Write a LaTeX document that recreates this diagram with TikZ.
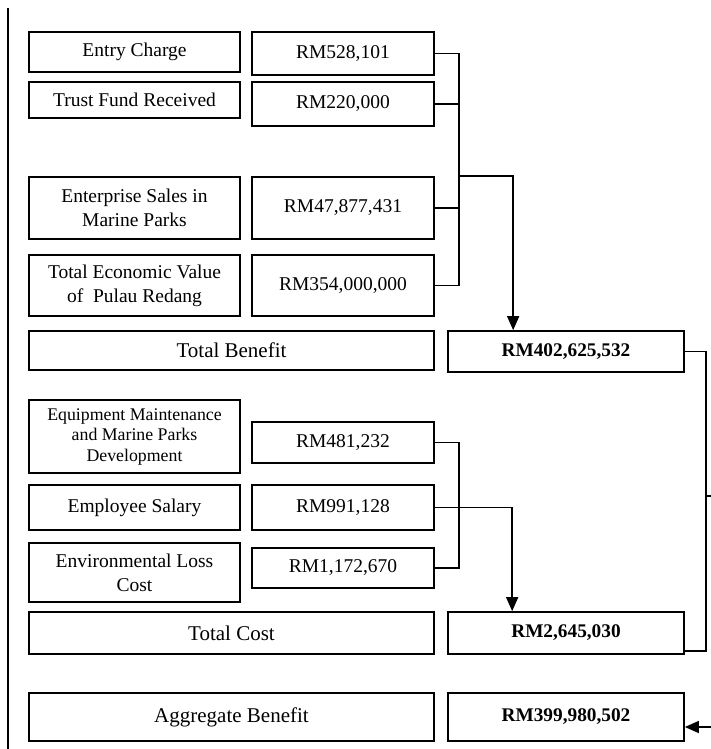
\documentclass[tikz,border=0pt]{standalone}
\usepackage{fontspec}
\setmainfont{Liberation Serif}
\usetikzlibrary{positioning,calc,arrows.meta}

\begin{document}
\begin{tikzpicture}[x=1pt, y=-1pt,
    item/.style={rectangle, draw, line width=1.7pt, minimum width=211pt, align=center, inner sep=1pt, font=\fontsize{19.5}{24}\selectfont},
    amount/.style={rectangle, draw, line width=1.7pt, minimum width=182pt, inner sep=1pt, font=\fontsize{19.5}{24}\selectfont},
    total/.style={rectangle, draw, line width=1.7pt, minimum width=405pt, inner sep=1pt, font=\fontsize{21}{25}\selectfont},
    result/.style={rectangle, draw, line width=1.7pt, minimum width=236pt, inner sep=1pt, font=\fontsize{19.3}{24}\selectfont\bfseries},
    link/.style={line width=1.5pt},
    flow/.style={line width=1.5pt, -{Triangle[length=14pt, width=12pt]}}
]
\useasboundingbox (0,0) rectangle (711,749);

% Left rule
\draw[line width=1.8pt] (8,8) -- (8,749);

% Benefit items
\node[item, minimum height=40pt] (entry) at (134.5,52) {Entry Charge};
\node[amount, minimum height=43pt] (entryval) at (343,53.5) {RM528,101};
\node[item, minimum height=36pt] (trust) at (134.5,100) {Trust Fund Received};
\node[amount, minimum height=44pt] (trustval) at (343,104) {RM220,000};
\node[item, minimum height=62pt] (sales) at (134.5,208) {Enterprise Sales in\\Marine Parks};
\node[amount, minimum height=62pt] (salesval) at (343,208) {RM47,877,431};
\node[item, minimum height=61pt] (tev) at (134.5,285.5) {Total Economic Value\\of~ Pulau Redang};
\node[amount, minimum height=61pt] (tevval) at (343,285.5) {RM354,000,000};
\node[total, minimum height=39pt] (totben) at (231.5,350.5) {Total Benefit};
\node[result, minimum height=41pt] (totbenval) at (566,351.5) {RM402,625,532};

% Cost items
\node[item, minimum height=73pt, font=\fontsize{17.8}{20.5}\selectfont] (equip) at (134.5,436.5) {Equipment Maintenance\\and Marine Parks\\Development};
\node[amount, minimum height=41pt] (equipval) at (343,442.5) {RM481,232};
\node[item, minimum height=45pt] (salary) at (134.5,507.5) {Employee Salary};
\node[amount, minimum height=45pt] (salaryval) at (343,507.5) {RM991,128};
\node[item, minimum height=59pt] (envloss) at (134.5,572.5) {Environmental Loss\\Cost};
\node[amount, minimum height=40pt] (envlossval) at (343,568) {RM1,172,670};
\node[total, minimum height=42pt] (totcost) at (231.5,633) {Total Cost};
\node[result, minimum height=42pt] (totcostval) at (566,633) {RM2,645,030};

% Aggregate
\node[total, minimum height=48pt] (aggr) at (231.5,717) {Aggregate Benefit};
\node[result, minimum height=48pt] (aggrval) at (566,717) {RM399,980,502};

% Benefit bus
\coordinate (benbus) at (459,0);
\draw[link] (entryval.east) -| (benbus |- tevval.east) -- (tevval.east);
\draw[link] (trustval.east) -- (trustval.east -| benbus);
\draw[link] (salesval.east) -- (salesval.east -| benbus);
\draw[flow] (benbus |- salesval.north) -| ([xshift=66pt]totbenval.north west);

% Cost bus
\coordinate (costbus) at (459,0);
\draw[link] (equipval.east) -| (costbus |- envlossval.east) -- (envlossval.east);
\draw[flow] (salaryval.east) -| ([xshift=65pt]totcostval.north west);

% Right side
\coordinate (rbus) at (706,496);
\coordinate (rout) at (711,496);
\coordinate (aggin) at (711,727);
\draw[link] (totbenval.east) -| (rbus) |- ([yshift=4pt]totcostval.south east);
\draw[link] (rbus) -- (rout);
\draw[flow] (aggin) -- (aggin -| aggrval.east);

\end{tikzpicture}
\end{document}
